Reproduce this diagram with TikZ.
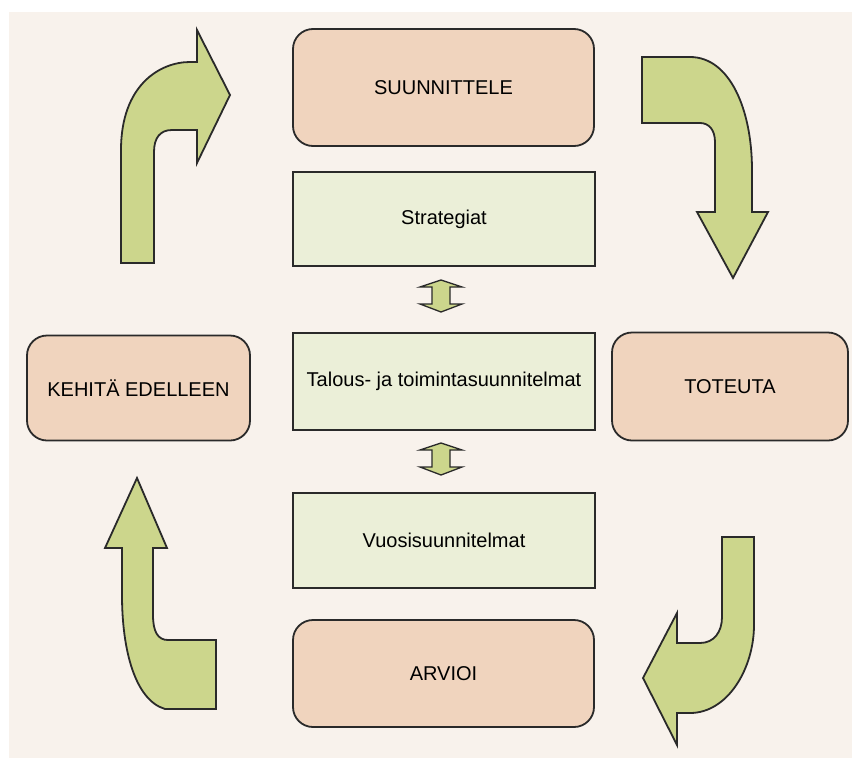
\documentclass[tikz,border=0pt]{standalone}
\usepackage{fontspec}
\setmainfont{Liberation Sans}
\definecolor{paper}{HTML}{F8F2EC}
\definecolor{salmon}{HTML}{F0D4BE}
\definecolor{pale}{HTML}{EBEFD8}
\definecolor{leaf}{HTML}{CCD68C}
\definecolor{ink}{HTML}{2A2A2A}
\tikzset{
  phase/.style={draw=ink, line width=1.8pt, fill=salmon, rounded corners=20pt, inner sep=0pt, font=\fontsize{20}{24}\selectfont},
  plan/.style={draw=ink, line width=1.5pt, fill=pale, inner sep=0pt, font=\fontsize{20}{24}\selectfont},
  bigarrow/.style={draw=ink, line width=1.8pt, fill=leaf, line join=miter},
}
\begin{document}
\begin{tikzpicture}[x=1pt,y=-1pt]
\useasboundingbox (0,0) rectangle (852,758);
\fill[white] (0,0) rectangle (852,758);
\fill[paper] (9,12) rectangle (852,758);

% boxes
\node[phase, minimum width=301pt, minimum height=117pt] (suun) at (443.5,87.5) {SUUNNITTELE};
\node[plan, minimum width=302pt, minimum height=94pt] (strat) at (444,219) {Strategiat};
\node[plan, minimum width=302pt, minimum height=97pt] (talous) at (444,381.5) {Talous- ja toimintasuunnitelmat};
\node[plan, minimum width=302pt, minimum height=95pt] (vuosi) at (444,540.5) {Vuosisuunnitelmat};
\node[phase, minimum width=301pt, minimum height=107pt] (arvioi) at (443.5,673.5) {ARVIOI};
\node[phase, minimum width=223pt, minimum height=105pt] (kehita) at (138.5,388) {KEHITÄ EDELLEEN};
\node[phase, minimum width=236pt, minimum height=108pt] (toteuta) at (730,386.5) {TOTEUTA};

% double arrows between plan boxes
\draw[bigarrow, line width=1.3pt] (441,280) -- (462,287) -- (450,287) -- (450,304) -- (462,304) -- (441,312) -- (420,304) -- (432,304) -- (432,287) -- (420,287) -- cycle;
\draw[bigarrow, line width=1.3pt] (441,443) -- (462,450) -- (450,450) -- (450,467) -- (462,467) -- (441,475) -- (420,467) -- (432,467) -- (432,450) -- (420,450) -- cycle;

% top-left curved arrow
\draw[bigarrow] (121,263) -- (121,150) .. controls (121,85) and (160,62) .. (190,62) -- (197,62) -- (197,30) -- (230,95) -- (197,163) -- (197,130) -- (172,130) .. controls (160,130) and (154,138) .. (154,152) -- (154,263) -- cycle;

% top-right curved arrow
\draw[bigarrow] (642,57) -- (690,57) .. controls (730,57) and (752,110) .. (752,170) -- (752,212) -- (768,212) -- (733,278) -- (697,212) -- (715,212) -- (715,142) .. controls (715,130) and (709,123) .. (700,123) -- (642,123) -- cycle;

% bottom-right curved arrow
\draw[bigarrow] (722,537) -- (754,537) -- (754,625) .. controls (754,668) and (728,713) .. (690,713) -- (677,713) -- (677,745) -- (643,678) -- (677,613) -- (677,643) -- (700,643) .. controls (714,643) and (722,632) .. (722,617) -- cycle;

% bottom-left curved arrow
\draw[bigarrow] (216,640) -- (216,709) -- (165,709) .. controls (135,700) and (122,650) .. (122,595) -- (122,548) -- (105,548) -- (137,478) -- (167,548) -- (153,548) -- (153,615) .. controls (153,632) and (158,640) .. (168,640) -- cycle;
\end{tikzpicture}
\end{document}
